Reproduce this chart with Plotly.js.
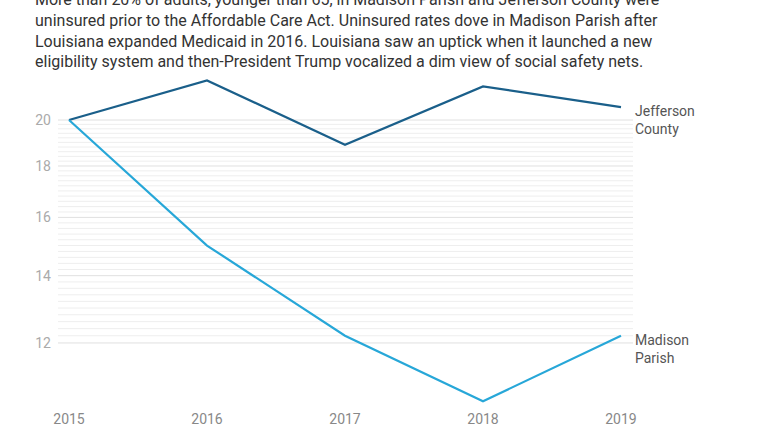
<!DOCTYPE html>
<html>
<head>
<meta charset="utf-8">
<script src="https://cdn.plot.ly/plotly-3.0.1.min.js"></script>
<style>
  html, body { margin: 0; padding: 0; background: #fff; }
  #chart { width: 765px; height: 430px; }
</style>
</head>
<body>
<div id="chart"></div>
<script>
// ---- data ----
var years = [2015, 2016, 2017, 2018, 2019];
var jeffersonCounty = [20.0, 21.9, 18.9, 21.6, 20.6];
var madisonParish = [20.0, 15.0, 12.2, 10.5, 12.2];
var seriesNames = ["Jefferson<br>County", "Madison<br>Parish"];
var yTickVals = [12, 14, 16, 18, 20];
var yTickText = ["12", "14", "16", "18", "20"];
var gridMin = 12, gridMax = 20, gridStep = 0.2;
var subtitleText = "More than 20% of adults, younger than 65, in Madison Parish and Jefferson County were<br>" +
  "uninsured prior to the Affordable Care Act. Uninsured rates dove in Madison Parish after<br>" +
  "Louisiana expanded Medicaid in 2016. Louisiana saw an uptick when it launched a new<br>" +
  "eligibility system and then-President Trump vocalized a dim view of social safety nets.";

var darkBlue = "#1a5f8a";
var lightBlue = "#27a7d8";
var FONT = "Roboto, 'Noto Sans', sans-serif";

// gridlines (shape coordinates in data units on the log axis)
var shapes = [];
for (var i = 0; i <= Math.round((gridMax - gridMin) / gridStep); i++) {
  var v = gridMin + i * gridStep;
  var isMajor = yTickVals.some(function (t) { return Math.abs(t - v) < 1e-6; });
  shapes.push({
    type: "line", xref: "paper", yref: "y", layer: "below",
    x0: 0, x1: 1, y0: v, y1: v,
    line: { color: isMajor ? "#e0e0e0" : "#eeeeee", width: 1 }
  });
}

var traces = [
  { x: years, y: jeffersonCounty, type: "scatter", mode: "lines", cliponaxis: false,
    line: { color: darkBlue, width: 2.2 }, hoverinfo: "skip" },
  { x: years, y: madisonParish, type: "scatter", mode: "lines", cliponaxis: false,
    line: { color: lightBlue, width: 2.2 }, hoverinfo: "skip" }
];

var annotations = [
  { xref: "paper", yref: "y", x: 1, y: Math.log10(jeffersonCounty[jeffersonCounty.length - 1]),
    xanchor: "left", yanchor: "top", yshift: 6, xshift: 0, align: "left", showarrow: false,
    text: seriesNames[0], font: { family: FONT, size: 14, color: "#555" } },
  { xref: "paper", yref: "y", x: 1, y: Math.log10(madisonParish[madisonParish.length - 1]),
    xanchor: "left", yanchor: "top", yshift: 6, xshift: 0, align: "left", showarrow: false,
    text: seriesNames[1], font: { family: FONT, size: 14, color: "#555" } },
  { xref: "paper", yref: "paper", x: 0, y: 1, xanchor: "left", yanchor: "bottom",
    xshift: -25, yshift: 2, align: "left", showarrow: false,
    text: subtitleText, font: { family: FONT, size: 16, color: "#333" } }
];

var layout = {
  width: 765, height: 430,
  margin: { l: 58, r: 132, t: 75, b: 25 },
  paper_bgcolor: "#fff", plot_bgcolor: "#fff",
  showlegend: false,
  xaxis: {
    range: [2014.9203, 2019.087], tickvals: years, ticktext: years.map(String),
    showgrid: false, zeroline: false, showline: false, ticks: "",
    ticklabelstandoff: 4,
    tickfont: { family: FONT, size: 14, color: "#888" }
  },
  yaxis: {
    type: "log", range: [1.01744, 1.34581],
    tickvals: yTickVals, ticktext: yTickText,
    showgrid: false, zeroline: false, showline: false, ticks: "",
    ticklabelstandoff: 6,
    tickfont: { family: FONT, size: 14, color: "#aaa" }
  },
  shapes: shapes,
  annotations: annotations
};

Plotly.newPlot("chart", traces, layout, { staticPlot: true, displayModeBar: false });
</script>
</body>
</html>
